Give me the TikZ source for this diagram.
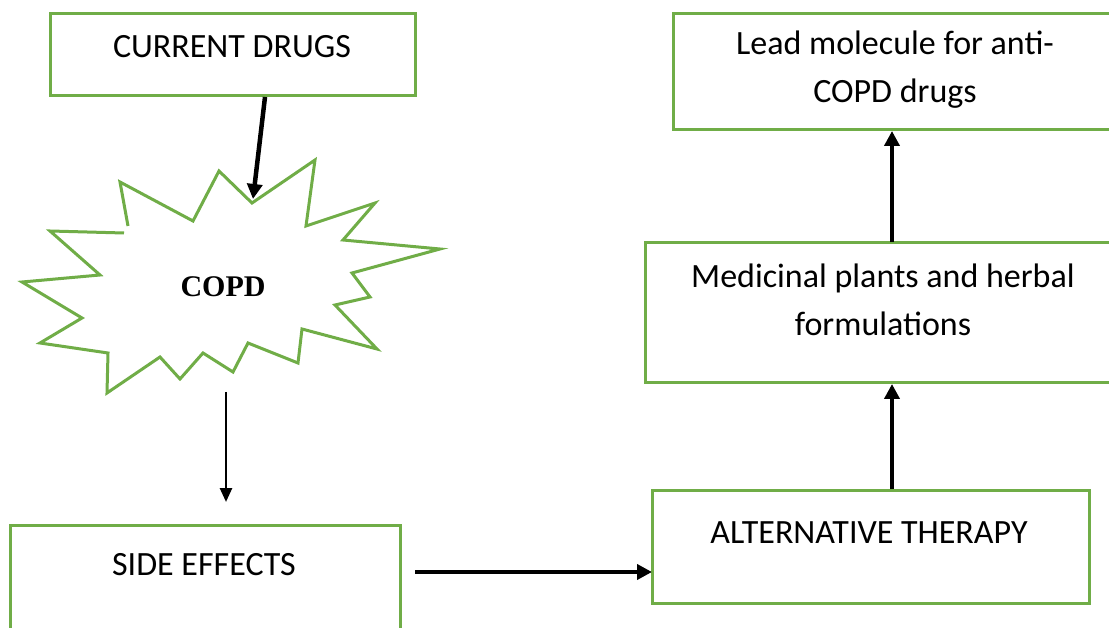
\documentclass[tikz,border=0pt]{standalone}
\usepackage{fontspec}
\setmainfont{Carlito}
\newfontfamily\serifbold{Liberation Serif}
\usetikzlibrary{arrows.meta}
\definecolor{boxgreen}{RGB}{112,173,71}
\tikzset{
  box/.style={draw=boxgreen, line width=3pt, rectangle, inner sep=0pt},
  txt/.style={font=\fontsize{34}{48}\selectfont, align=center, inner sep=0pt, text=black},
  thick arrow/.style={line width=4.5pt, -{Triangle[length=15pt,width=15pt]}},
  thin arrow/.style={line width=2.6pt, -{Triangle[length=14pt,width=12pt]}},
  burst/.style={draw=boxgreen, line width=3pt, line join=miter, fill=white}
}
\begin{document}
\begin{tikzpicture}[x=1pt,y=-1pt]
\useasboundingbox (0,0) rectangle (1109,628);
% boxes
\draw[box] (50,14) rectangle (415,96);
\node[coordinate] (cdb) at (265,97) {};
\node[txt] (cd) at (232,47) {CURRENT DRUGS};

\draw[box] (673,14) rectangle (1113,130);
\node[txt] (lead) at (895,70) {Lead molecule for anti-\\COPD drugs};
\coordinate (leadb) at (892,131);

\draw[box] (645,243) rectangle (1113,383);
\node[txt] (med) at (883,300) {Medicinal plants and herbal\\formulations};
\coordinate (medt) at (892,242);
\coordinate (medb) at (892,384);

\draw[box] (652,490) rectangle (1089,603);
\node[txt] (alt) at (869,533) {ALTERNATIVE THERAPY};
\coordinate (altt) at (892,489);
\coordinate (altl) at (652,572);

\draw[box] (10,525) rectangle (400,640);
\node[txt] (se) at (204,565) {SIDE EFFECTS};
\coordinate (ser) at (415,572);
\coordinate (set) at (226,502);

% starburst
\draw[burst] (128,226) -- (120,182) -- (193,221) -- (219,171) -- (252,203) -- (315,160)
  -- (306,226) -- (375,203) -- (343,240) -- (440,249) -- (352,273) -- (370,297)
  -- (335,305) -- (377,349) -- (302,329) -- (298,363) -- (248,343) -- (233,372)
  -- (203,353) -- (180,379) -- (160,357) -- (107,393) -- (108,353) -- (40,343)
  -- (82,318) -- (22,282) -- (100,275) -- (50,231) -- (124,233);
\node[font=\serifbold\bfseries\fontsize{30}{36}\selectfont, inner sep=0pt] (copd) at (223,287) {COPD};
\coordinate (copdt) at (253,199);
\coordinate (copdb) at (226,392);

% arrows
\draw[thick arrow] (cdb) -- (copdt);
\draw[thin arrow] (copdb) -- (set);
\draw[thick arrow] (ser) -- (altl);
\draw[thick arrow] (altt) -- (medb);
\draw[thick arrow] (medt) -- (leadb);
\end{tikzpicture}
\end{document}
